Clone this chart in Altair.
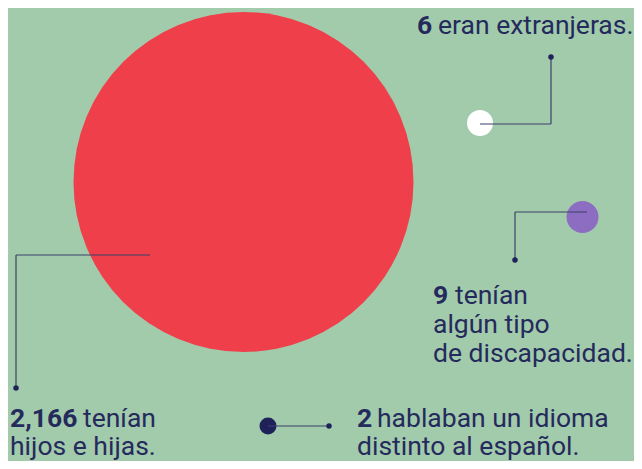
import altair as alt
import pandas as pd

# ---- data ----
categories = ["hijos", "extranjeras", "discapacidad", "idioma"]
values = [2166, 6, 9, 2]
label_first = ["tenían", "eran extranjeras.", "tenían", "hablaban un idioma"]
label_more = [["hijos e hijas."], [], ["algún tipo", "de discapacidad."], ["distinto al español."]]

# ---- layout (pixel coordinates of the 642x469 picture) ----
circle_xy = {"hijos": (243.5, 182), "extranjeras": (480, 123), "discapacidad": (582.5, 217), "idioma": (268, 426)}
circle_d = {"hijos": 340, "extranjeras": 26, "discapacidad": 32, "idioma": 17}
circle_col = {"hijos": "#ef3f4b", "extranjeras": "#ffffff", "discapacidad": "#8c6dc1", "idioma": "#1f2258"}
connector = {
    "hijos": [(150, 255), (16, 255), (16, 388)],
    "extranjeras": [(480, 124), (551, 124), (551, 57)],
    "discapacidad": [(587, 212), (515, 212), (515, 260)],
    "idioma": [(268, 426), (329, 426)],
}
num_xy = {"hijos": (10, 427), "extranjeras": (417, 34), "discapacidad": (433, 304), "idioma": (357, 427)}
rest_x = {"hijos": 83, "extranjeras": 438, "discapacidad": 455, "idioma": 377}
line_step = {"hijos": 28, "extranjeras": 29, "discapacidad": 29, "idioma": 28}

BG = "#a2cbac"
NAVY = "#252a5c"
LINE = "#3b4066"
FS = 26.5

circ = pd.DataFrame({
    "cat": categories,
    "value": values,
    "x": [circle_xy[c][0] for c in categories],
    "y": [circle_xy[c][1] for c in categories],
    "size": [circle_d[c] ** 2 for c in categories],
    "color": [circle_col[c] for c in categories],
})

segs, dots = [], []
for c in categories:
    pts = connector[c]
    for (a, b) in zip(pts[:-1], pts[1:]):
        segs.append({"cat": c, "x": a[0], "y": a[1], "x2": b[0], "y2": b[1]})
    dots.append({"cat": c, "x": pts[-1][0], "y": pts[-1][1]})
segs = pd.DataFrame(segs)
dots = pd.DataFrame(dots)

bold_rows, reg_rows = [], []
for c, v, first, more in zip(categories, values, label_first, label_more):
    nx, ny = num_xy[c]
    bold_rows.append({"x": nx, "y": ny, "text": f"{v:,}"})
    reg_rows.append({"x": rest_x[c], "y": ny, "text": first})
    for i, t in enumerate(more):
        reg_rows.append({"x": nx, "y": ny + line_step[c] * (i + 1), "text": t})
bold = pd.DataFrame(bold_rows)
reg = pd.DataFrame(reg_rows)

# page pixels 8..634 x 8..461 are the chart itself (8px page margin)
xs = alt.Scale(domain=[8, 634], nice=False, zero=False)
ys = alt.Scale(domain=[8, 461], nice=False, zero=False, reverse=True)

def X(f="x"):
    return alt.X(f"{f}:Q", scale=xs, axis=None)

def Y(f="y"):
    return alt.Y(f"{f}:Q", scale=ys, axis=None)

circles = alt.Chart(circ).mark_circle(opacity=1).encode(
    x=X(), y=Y(),
    size=alt.Size("size:Q", scale=None, legend=None),
    color=alt.Color("color:N", scale=None, legend=None),
)

rules = alt.Chart(segs).mark_rule(color=LINE, strokeWidth=1.2).encode(
    x=X(), y=Y(), x2="x2:Q", y2="y2:Q"
)

endpoints = alt.Chart(dots).mark_circle(color="#1f2258", opacity=1, size=30).encode(x=X(), y=Y())

bold_text = alt.Chart(bold).mark_text(
    font="Roboto", fontSize=FS, fontWeight="bold", color=NAVY, align="left", baseline="alphabetic"
).encode(x=X(), y=Y(), text="text:N")

reg_text = alt.Chart(reg).mark_text(
    font="Roboto", fontSize=FS, color=NAVY, align="left", baseline="alphabetic"
).encode(x=X(), y=Y(), text="text:N")

chart = alt.layer(circles, rules, endpoints, bold_text, reg_text).properties(
    width=626, height=453, background=BG, padding=0,
    autosize=alt.AutoSizeParams(type="none"),
).configure_view(stroke=None)

chart.save("out.html", embed_options={"renderer": "svg", "actions": False})
